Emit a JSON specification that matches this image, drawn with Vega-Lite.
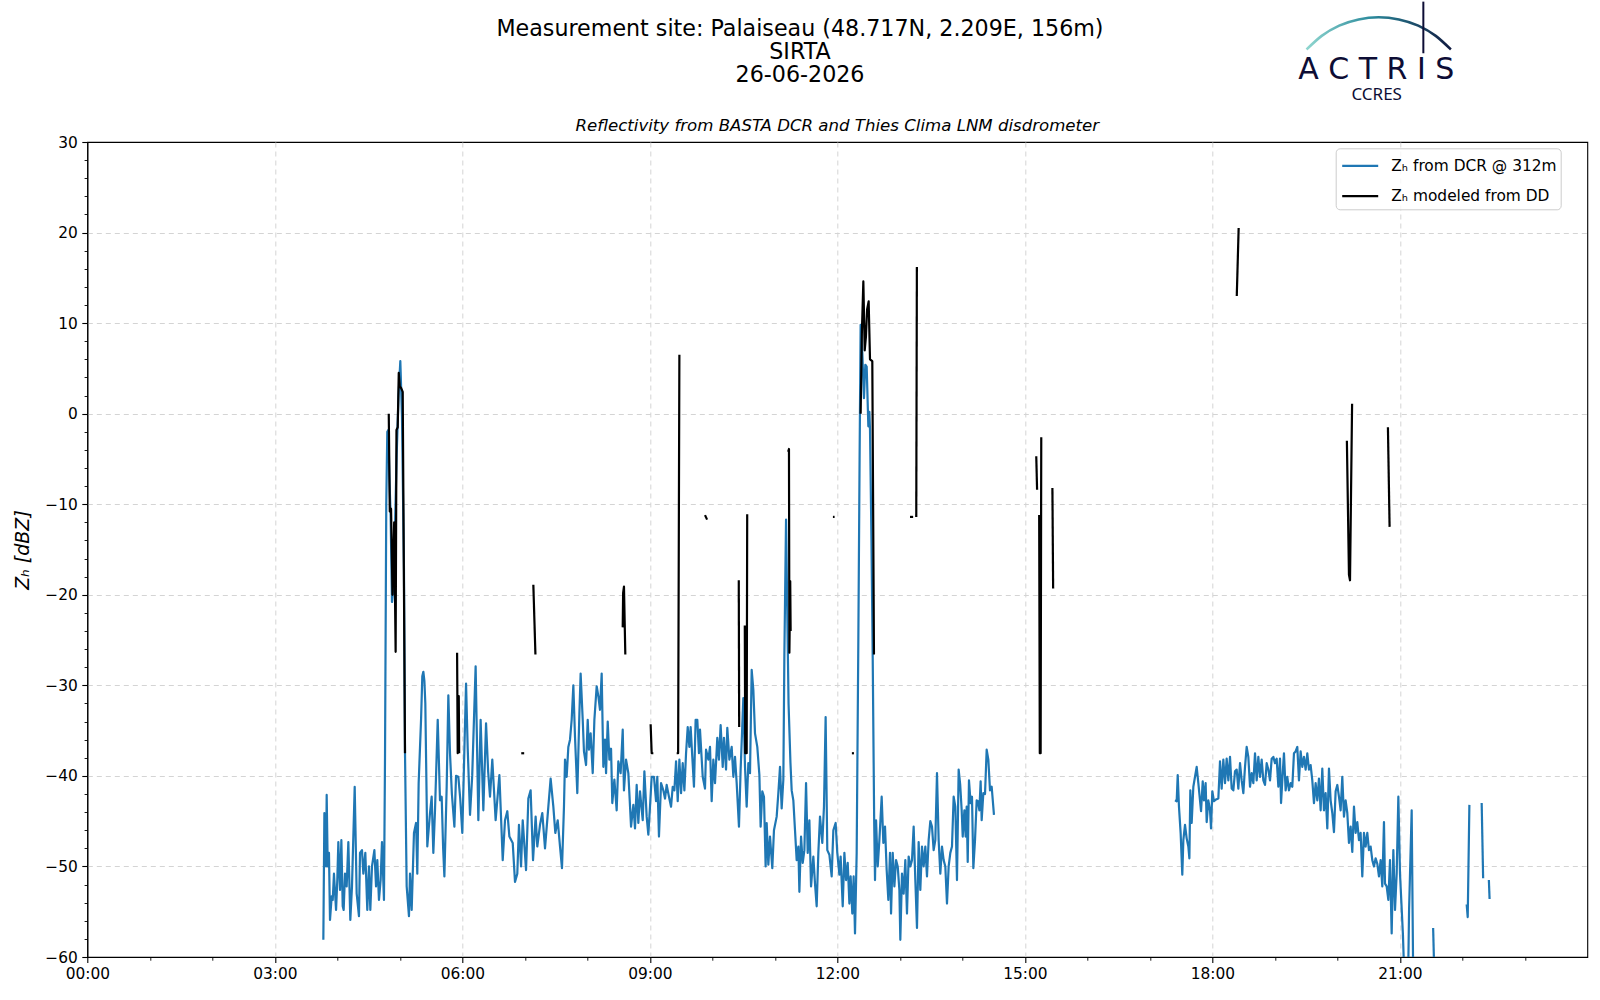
{
  "$schema": "https://vega.github.io/schema/vega-lite/v6.json",
  "autosize": {"type": "none"},
  "padding": {"left": 87.3, "top": 142, "right": 12.7, "bottom": 43},
  "width": 1500,
  "height": 815,
  "background": "white",
  "title": {
    "text": ["Measurement site: Palaiseau (48.717N, 2.209E, 156m)", "SIRTA", "26-06-2026"],
    "font": "DejaVu Sans",
    "fontSize": 22.2,
    "fontWeight": "normal",
    "color": "#000000",
    "lineHeight": 23,
    "anchor": "middle",
    "frame": "group",
    "dx": -37.3,
    "offset": -86
  },
  "datasets": {
    "dcr": [
      {"seg":1,"minute":226.6,"dbz":-58.1},{"seg":1,"minute":227.6,"dbz":-44.1},{"seg":1,"minute":229.2,"dbz":-50.0},{"seg":1,"minute":229.8,"dbz":-42.1},
      {"seg":1,"minute":230.8,"dbz":-50.0},{"seg":1,"minute":232.0,"dbz":-48.5},{"seg":1,"minute":233.0,"dbz":-55.9},{"seg":1,"minute":234.6,"dbz":-53.3},
      {"seg":1,"minute":235.6,"dbz":-53.7},{"seg":1,"minute":236.8,"dbz":-50.8},{"seg":1,"minute":238.8,"dbz":-54.8},{"seg":1,"minute":240.0,"dbz":-51.5},
      {"seg":1,"minute":241.0,"dbz":-47.3},{"seg":1,"minute":242.6,"dbz":-52.6},{"seg":1,"minute":243.9,"dbz":-47.1},{"seg":1,"minute":245.2,"dbz":-54.4},
      {"seg":1,"minute":246.1,"dbz":-54.8},{"seg":1,"minute":247.4,"dbz":-50.8},{"seg":1,"minute":249.0,"dbz":-52.2},{"seg":1,"minute":250.6,"dbz":-47.3},
      {"seg":1,"minute":252.5,"dbz":-55.9},{"seg":1,"minute":254.1,"dbz":-52.2},{"seg":1,"minute":256.7,"dbz":-41.2},{"seg":1,"minute":258.6,"dbz":-53.0},
      {"seg":1,"minute":260.8,"dbz":-55.5},{"seg":1,"minute":261.8,"dbz":-48.5},{"seg":1,"minute":263.7,"dbz":-48.2},{"seg":1,"minute":265.0,"dbz":-50.8},
      {"seg":1,"minute":266.9,"dbz":-48.5},{"seg":1,"minute":268.8,"dbz":-54.8},{"seg":1,"minute":270.4,"dbz":-50.0},{"seg":1,"minute":271.7,"dbz":-54.8},
      {"seg":1,"minute":273.3,"dbz":-50.0},{"seg":1,"minute":275.6,"dbz":-48.2},{"seg":1,"minute":277.2,"dbz":-52.2},{"seg":1,"minute":278.4,"dbz":-49.3},
      {"seg":1,"minute":280.0,"dbz":-53.7},{"seg":1,"minute":281.6,"dbz":-51.5},{"seg":1,"minute":282.9,"dbz":-47.3},{"seg":1,"minute":284.8,"dbz":-53.7},
      {"seg":1,"minute":285.8,"dbz":-38.0},{"seg":1,"minute":287.0,"dbz":-10.0},{"seg":1,"minute":288.0,"dbz":-2.0},{"seg":1,"minute":289.0,"dbz":-1.8},
      {"seg":1,"minute":290.0,"dbz":-7.0},{"seg":1,"minute":291.2,"dbz":-11.3},{"seg":1,"minute":292.5,"dbz":-20.8},{"seg":1,"minute":293.8,"dbz":-19.3},
      {"seg":1,"minute":295.5,"dbz":-12.0},{"seg":1,"minute":297.0,"dbz":-4.5},{"seg":1,"minute":298.8,"dbz":2.0},{"seg":1,"minute":300.5,"dbz":5.8},
      {"seg":1,"minute":302.1,"dbz":-0.3},{"seg":1,"minute":304.0,"dbz":-17.2},{"seg":1,"minute":305.0,"dbz":-37.5},{"seg":1,"minute":306.6,"dbz":-52.2},
      {"seg":1,"minute":308.8,"dbz":-55.5},{"seg":1,"minute":309.8,"dbz":-50.8},{"seg":1,"minute":311.4,"dbz":-54.8},{"seg":1,"minute":313.6,"dbz":-46.3},
      {"seg":1,"minute":315.6,"dbz":-45.2},{"seg":1,"minute":316.8,"dbz":-50.8},{"seg":1,"minute":318.1,"dbz":-40.8},{"seg":1,"minute":320.4,"dbz":-33.8},
      {"seg":1,"minute":321.6,"dbz":-29.0},{"seg":1,"minute":322.6,"dbz":-28.5},{"seg":1,"minute":323.6,"dbz":-29.5},{"seg":1,"minute":324.5,"dbz":-32.0},
      {"seg":1,"minute":326.4,"dbz":-47.8},{"seg":1,"minute":329.0,"dbz":-44.1},{"seg":1,"minute":330.6,"dbz":-42.3},{"seg":1,"minute":332.2,"dbz":-48.5},
      {"seg":1,"minute":333.8,"dbz":-43.8},{"seg":1,"minute":336.4,"dbz":-33.8},{"seg":1,"minute":338.6,"dbz":-42.7},{"seg":1,"minute":340.2,"dbz":-42.3},
      {"seg":1,"minute":341.6,"dbz":-48.0},{"seg":1,"minute":342.8,"dbz":-51.1},{"seg":1,"minute":345.0,"dbz":-41.2},{"seg":1,"minute":346.6,"dbz":-31.1},
      {"seg":1,"minute":348.2,"dbz":-37.5},{"seg":1,"minute":350.0,"dbz":-42.0},{"seg":1,"minute":352.4,"dbz":-45.6},{"seg":1,"minute":354.0,"dbz":-40.0},
      {"seg":1,"minute":356.2,"dbz":-40.1},{"seg":1,"minute":358.0,"dbz":-42.5},{"seg":1,"minute":360.0,"dbz":-46.3},{"seg":1,"minute":363.6,"dbz":-29.8},
      {"seg":1,"minute":365.2,"dbz":-37.0},{"seg":1,"minute":367.4,"dbz":-44.3},{"seg":1,"minute":369.5,"dbz":-40.0},{"seg":1,"minute":372.8,"dbz":-27.9},
      {"seg":1,"minute":375.4,"dbz":-44.9},{"seg":1,"minute":377.6,"dbz":-33.8},{"seg":1,"minute":380.2,"dbz":-43.8},{"seg":1,"minute":382.8,"dbz":-34.2},
      {"seg":1,"minute":384.8,"dbz":-39.5},{"seg":1,"minute":386.6,"dbz":-42.3},{"seg":1,"minute":388.8,"dbz":-38.2},{"seg":1,"minute":392.0,"dbz":-44.9},
      {"seg":1,"minute":395.6,"dbz":-39.9},{"seg":1,"minute":398.8,"dbz":-49.3},{"seg":1,"minute":401.0,"dbz":-44.9},{"seg":1,"minute":403.2,"dbz":-43.9},
      {"seg":1,"minute":405.2,"dbz":-46.7},{"seg":1,"minute":408.4,"dbz":-47.4},{"seg":1,"minute":410.6,"dbz":-51.7},{"seg":1,"minute":412.8,"dbz":-50.8},
      {"seg":1,"minute":414.4,"dbz":-45.4},{"seg":1,"minute":416.4,"dbz":-50.0},{"seg":1,"minute":418.0,"dbz":-44.9},{"seg":1,"minute":421.2,"dbz":-50.4},
      {"seg":1,"minute":423.4,"dbz":-42.5},{"seg":1,"minute":425.6,"dbz":-41.6},{"seg":1,"minute":427.9,"dbz":-49.3},{"seg":1,"minute":430.4,"dbz":-44.5},
      {"seg":1,"minute":432.0,"dbz":-47.8},{"seg":1,"minute":434.6,"dbz":-45.4},{"seg":1,"minute":436.8,"dbz":-44.1},{"seg":1,"minute":439.4,"dbz":-48.0},
      {"seg":1,"minute":442.6,"dbz":-43.4},{"seg":1,"minute":444.8,"dbz":-40.3},{"seg":1,"minute":447.4,"dbz":-43.4},{"seg":1,"minute":449.3,"dbz":-46.3},
      {"seg":1,"minute":451.6,"dbz":-44.9},{"seg":1,"minute":453.8,"dbz":-47.8},{"seg":1,"minute":455.7,"dbz":-50.2},{"seg":1,"minute":457.6,"dbz":-43.4},
      {"seg":1,"minute":458.6,"dbz":-38.2},{"seg":1,"minute":460.2,"dbz":-40.1},{"seg":1,"minute":461.8,"dbz":-36.8},{"seg":1,"minute":463.4,"dbz":-36.0},
      {"seg":1,"minute":465.0,"dbz":-33.8},{"seg":1,"minute":466.6,"dbz":-30.0},{"seg":1,"minute":468.2,"dbz":-35.7},{"seg":1,"minute":470.4,"dbz":-41.9},
      {"seg":1,"minute":472.4,"dbz":-33.1},{"seg":1,"minute":473.6,"dbz":-28.7},{"seg":1,"minute":475.6,"dbz":-33.8},{"seg":1,"minute":476.8,"dbz":-37.3},
      {"seg":1,"minute":478.8,"dbz":-38.8},{"seg":1,"minute":480.4,"dbz":-33.8},{"seg":1,"minute":481.6,"dbz":-37.1},{"seg":1,"minute":483.2,"dbz":-35.3},
      {"seg":1,"minute":485.2,"dbz":-39.7},{"seg":1,"minute":486.8,"dbz":-33.8},{"seg":1,"minute":489.0,"dbz":-30.1},{"seg":1,"minute":490.6,"dbz":-31.2},
      {"seg":1,"minute":492.2,"dbz":-32.7},{"seg":1,"minute":493.8,"dbz":-28.7},{"seg":1,"minute":495.4,"dbz":-39.0},{"seg":1,"minute":497.0,"dbz":-36.0},
      {"seg":1,"minute":498.0,"dbz":-39.7},{"seg":1,"minute":499.6,"dbz":-34.0},{"seg":1,"minute":501.2,"dbz":-38.2},{"seg":1,"minute":502.8,"dbz":-37.0},
      {"seg":1,"minute":504.0,"dbz":-43.0},{"seg":1,"minute":506.0,"dbz":-40.4},{"seg":1,"minute":508.2,"dbz":-43.8},{"seg":1,"minute":509.8,"dbz":-38.4},
      {"seg":1,"minute":512.0,"dbz":-39.7},{"seg":1,"minute":514.0,"dbz":-34.9},{"seg":1,"minute":515.2,"dbz":-41.6},{"seg":1,"minute":517.2,"dbz":-38.2},
      {"seg":1,"minute":519.4,"dbz":-39.7},{"seg":1,"minute":522.0,"dbz":-45.6},{"seg":1,"minute":524.2,"dbz":-43.2},{"seg":1,"minute":525.8,"dbz":-45.8},
      {"seg":1,"minute":527.4,"dbz":-41.0},{"seg":1,"minute":529.0,"dbz":-45.2},{"seg":1,"minute":530.6,"dbz":-41.7},{"seg":1,"minute":533.2,"dbz":-44.9},
      {"seg":1,"minute":534.8,"dbz":-39.5},{"seg":1,"minute":537.0,"dbz":-44.5},{"seg":1,"minute":538.6,"dbz":-46.5},{"seg":1,"minute":540.2,"dbz":-43.4},
      {"seg":1,"minute":541.8,"dbz":-40.1},{"seg":1,"minute":544.0,"dbz":-40.1},{"seg":1,"minute":546.0,"dbz":-42.8},{"seg":1,"minute":547.2,"dbz":-40.1},
      {"seg":1,"minute":548.8,"dbz":-46.7},{"seg":1,"minute":550.8,"dbz":-40.8},{"seg":1,"minute":553.0,"dbz":-41.6},{"seg":1,"minute":554.6,"dbz":-42.5},
      {"seg":1,"minute":556.2,"dbz":-41.0},{"seg":1,"minute":558.4,"dbz":-42.3},{"seg":1,"minute":560.4,"dbz":-43.4},{"seg":1,"minute":562.0,"dbz":-41.2},
      {"seg":1,"minute":563.6,"dbz":-41.6},{"seg":1,"minute":565.2,"dbz":-38.4},{"seg":1,"minute":566.8,"dbz":-42.8},{"seg":1,"minute":568.4,"dbz":-38.2},
      {"seg":1,"minute":570.0,"dbz":-41.9},{"seg":1,"minute":571.6,"dbz":-38.6},{"seg":1,"minute":573.2,"dbz":-41.6},{"seg":1,"minute":574.8,"dbz":-37.5},
      {"seg":1,"minute":576.4,"dbz":-34.6},{"seg":1,"minute":578.0,"dbz":-36.8},{"seg":1,"minute":579.2,"dbz":-34.6},{"seg":1,"minute":580.8,"dbz":-37.9},
      {"seg":1,"minute":582.4,"dbz":-41.2},{"seg":1,"minute":584.0,"dbz":-33.8},{"seg":1,"minute":585.6,"dbz":-33.8},{"seg":1,"minute":587.2,"dbz":-37.5},
      {"seg":1,"minute":588.2,"dbz":-34.9},{"seg":1,"minute":590.8,"dbz":-40.1},{"seg":1,"minute":593.0,"dbz":-41.4},{"seg":1,"minute":594.0,"dbz":-37.1},
      {"seg":1,"minute":596.2,"dbz":-38.2},{"seg":1,"minute":597.8,"dbz":-36.8},{"seg":1,"minute":599.4,"dbz":-42.8},{"seg":1,"minute":601.0,"dbz":-38.2},
      {"seg":1,"minute":602.6,"dbz":-40.8},{"seg":1,"minute":604.8,"dbz":-35.8},{"seg":1,"minute":606.4,"dbz":-38.2},{"seg":1,"minute":608.0,"dbz":-34.4},
      {"seg":1,"minute":610.0,"dbz":-39.0},{"seg":1,"minute":611.2,"dbz":-35.8},{"seg":1,"minute":613.2,"dbz":-39.3},{"seg":1,"minute":614.4,"dbz":-34.7},
      {"seg":1,"minute":616.4,"dbz":-38.2},{"seg":1,"minute":618.6,"dbz":-36.8},{"seg":1,"minute":620.2,"dbz":-40.1},{"seg":1,"minute":621.8,"dbz":-37.9},
      {"seg":1,"minute":623.4,"dbz":-40.8},{"seg":1,"minute":625.6,"dbz":-45.6},{"seg":1,"minute":627.2,"dbz":-39.3},{"seg":1,"minute":629.8,"dbz":-31.4},
      {"seg":1,"minute":631.4,"dbz":-39.0},{"seg":1,"minute":633.0,"dbz":-43.4},{"seg":1,"minute":634.6,"dbz":-38.6},{"seg":1,"minute":636.2,"dbz":-39.7},
      {"seg":1,"minute":637.8,"dbz":-28.3},{"seg":1,"minute":639.4,"dbz":-30.5},{"seg":1,"minute":641.0,"dbz":-35.3},{"seg":1,"minute":643.2,"dbz":-36.8},
      {"seg":1,"minute":645.2,"dbz":-39.9},{"seg":1,"minute":646.4,"dbz":-45.6},{"seg":1,"minute":648.0,"dbz":-41.7},{"seg":1,"minute":649.6,"dbz":-42.3},
      {"seg":1,"minute":651.2,"dbz":-50.0},{"seg":1,"minute":652.2,"dbz":-45.2},{"seg":1,"minute":653.8,"dbz":-49.8},{"seg":1,"minute":655.4,"dbz":-46.7},
      {"seg":1,"minute":657.6,"dbz":-50.2},{"seg":1,"minute":659.2,"dbz":-46.0},{"seg":1,"minute":661.8,"dbz":-44.5},{"seg":1,"minute":663.4,"dbz":-41.9},
      {"seg":1,"minute":665.0,"dbz":-39.0},{"seg":1,"minute":666.6,"dbz":-43.6},{"seg":1,"minute":668.2,"dbz":-40.4},{"seg":1,"minute":669.2,"dbz":-26.5},
      {"seg":1,"minute":670.8,"dbz":-11.7},{"seg":1,"minute":672.0,"dbz":-22.0},{"seg":1,"minute":673.2,"dbz":-32.0},{"seg":1,"minute":675.0,"dbz":-38.5},
      {"seg":1,"minute":676.2,"dbz":-41.6},{"seg":1,"minute":677.8,"dbz":-42.7},{"seg":1,"minute":679.4,"dbz":-46.0},{"seg":1,"minute":681.0,"dbz":-49.3},
      {"seg":1,"minute":682.6,"dbz":-47.8},{"seg":1,"minute":683.6,"dbz":-52.8},{"seg":1,"minute":685.2,"dbz":-46.7},{"seg":1,"minute":686.8,"dbz":-49.6},
      {"seg":1,"minute":688.4,"dbz":-48.2},{"seg":1,"minute":690.0,"dbz":-40.8},{"seg":1,"minute":691.6,"dbz":-48.5},{"seg":1,"minute":693.2,"dbz":-44.9},
      {"seg":1,"minute":694.8,"dbz":-52.2},{"seg":1,"minute":697.0,"dbz":-48.9},{"seg":1,"minute":698.6,"dbz":-51.9},{"seg":1,"minute":700.2,"dbz":-54.4},
      {"seg":1,"minute":701.8,"dbz":-48.5},{"seg":1,"minute":703.4,"dbz":-44.5},{"seg":1,"minute":705.6,"dbz":-47.4},{"seg":1,"minute":707.2,"dbz":-43.4},
      {"seg":1,"minute":708.8,"dbz":-33.5},{"seg":1,"minute":710.4,"dbz":-48.2},{"seg":1,"minute":712.4,"dbz":-48.7},{"seg":1,"minute":714.6,"dbz":-51.1},
      {"seg":1,"minute":716.2,"dbz":-46.0},{"seg":1,"minute":718.4,"dbz":-45.2},{"seg":1,"minute":720.0,"dbz":-48.5},{"seg":1,"minute":722.0,"dbz":-50.9},
      {"seg":1,"minute":723.2,"dbz":-48.9},{"seg":1,"minute":725.2,"dbz":-54.4},{"seg":1,"minute":726.8,"dbz":-48.5},{"seg":1,"minute":728.4,"dbz":-51.5},
      {"seg":1,"minute":730.0,"dbz":-49.6},{"seg":1,"minute":731.6,"dbz":-54.1},{"seg":1,"minute":732.8,"dbz":-51.1},{"seg":1,"minute":734.4,"dbz":-55.2},
      {"seg":1,"minute":735.7,"dbz":-51.1},{"seg":1,"minute":737.0,"dbz":-57.4},{"seg":1,"minute":738.6,"dbz":-48.5},{"seg":1,"minute":740.2,"dbz":-25.0},
      {"seg":1,"minute":741.4,"dbz":-5.0},{"seg":1,"minute":742.4,"dbz":9.8},{"seg":1,"minute":744.0,"dbz":6.7},{"seg":1,"minute":745.6,"dbz":1.7},
      {"seg":1,"minute":746.9,"dbz":5.4},{"seg":1,"minute":748.2,"dbz":5.2},{"seg":1,"minute":749.8,"dbz":-1.4},{"seg":1,"minute":750.8,"dbz":0.2},
      {"seg":1,"minute":751.4,"dbz":-1.8},{"seg":1,"minute":752.8,"dbz":-14.0},{"seg":1,"minute":754.0,"dbz":-27.0},{"seg":1,"minute":755.4,"dbz":-45.0},
      {"seg":1,"minute":756.2,"dbz":-51.5},{"seg":1,"minute":757.2,"dbz":-44.9},{"seg":1,"minute":758.8,"dbz":-50.0},{"seg":1,"minute":760.4,"dbz":-47.1},
      {"seg":1,"minute":762.6,"dbz":-42.3},{"seg":1,"minute":764.2,"dbz":-47.4},{"seg":1,"minute":765.8,"dbz":-45.6},{"seg":1,"minute":767.4,"dbz":-50.4},
      {"seg":1,"minute":769.0,"dbz":-53.7},{"seg":1,"minute":770.6,"dbz":-48.5},{"seg":1,"minute":771.6,"dbz":-55.2},{"seg":1,"minute":773.2,"dbz":-48.5},
      {"seg":1,"minute":774.8,"dbz":-52.2},{"seg":1,"minute":776.4,"dbz":-49.3},{"seg":1,"minute":778.0,"dbz":-50.0},{"seg":1,"minute":779.6,"dbz":-52.6},
      {"seg":1,"minute":780.5,"dbz":-58.1},{"seg":1,"minute":782.1,"dbz":-50.8},{"seg":1,"minute":783.7,"dbz":-53.0},{"seg":1,"minute":785.3,"dbz":-49.3},
      {"seg":1,"minute":786.9,"dbz":-55.2},{"seg":1,"minute":788.5,"dbz":-48.9},{"seg":1,"minute":790.1,"dbz":-50.0},{"seg":1,"minute":791.7,"dbz":-49.3},
      {"seg":1,"minute":793.3,"dbz":-45.6},{"seg":1,"minute":794.9,"dbz":-51.5},{"seg":1,"minute":796.5,"dbz":-56.8},{"seg":1,"minute":798.1,"dbz":-47.3},
      {"seg":1,"minute":799.7,"dbz":-52.6},{"seg":1,"minute":801.3,"dbz":-47.8},{"seg":1,"minute":802.9,"dbz":-50.0},{"seg":1,"minute":804.5,"dbz":-47.8},
      {"seg":1,"minute":806.1,"dbz":-51.1},{"seg":1,"minute":807.7,"dbz":-47.1},{"seg":1,"minute":809.3,"dbz":-45.0},{"seg":1,"minute":810.9,"dbz":-45.6},
      {"seg":1,"minute":812.5,"dbz":-48.2},{"seg":1,"minute":814.1,"dbz":-47.1},{"seg":1,"minute":815.7,"dbz":-39.7},{"seg":1,"minute":817.3,"dbz":-47.1},
      {"seg":1,"minute":818.9,"dbz":-50.8},{"seg":1,"minute":820.5,"dbz":-47.8},{"seg":1,"minute":822.1,"dbz":-49.3},{"seg":1,"minute":823.7,"dbz":-50.0},
      {"seg":1,"minute":825.3,"dbz":-54.1},{"seg":1,"minute":826.9,"dbz":-50.0},{"seg":1,"minute":828.5,"dbz":-48.5},{"seg":1,"minute":830.1,"dbz":-47.8},
      {"seg":1,"minute":831.7,"dbz":-42.3},{"seg":1,"minute":833.3,"dbz":-43.4},{"seg":1,"minute":834.9,"dbz":-51.5},{"seg":1,"minute":836.5,"dbz":-39.3},
      {"seg":1,"minute":838.0,"dbz":-41.0},{"seg":1,"minute":839.4,"dbz":-43.8},{"seg":1,"minute":840.4,"dbz":-46.7},{"seg":1,"minute":842.0,"dbz":-43.8},
      {"seg":1,"minute":843.2,"dbz":-46.7},{"seg":1,"minute":844.2,"dbz":-43.4},{"seg":1,"minute":845.2,"dbz":-49.5},{"seg":1,"minute":846.4,"dbz":-40.5},
      {"seg":1,"minute":848.0,"dbz":-43.0},{"seg":1,"minute":849.3,"dbz":-42.3},{"seg":1,"minute":850.6,"dbz":-50.2},{"seg":1,"minute":852.2,"dbz":-47.1},
      {"seg":1,"minute":853.8,"dbz":-42.7},{"seg":1,"minute":855.0,"dbz":-42.8},{"seg":1,"minute":856.4,"dbz":-43.8},{"seg":1,"minute":857.6,"dbz":-40.6},
      {"seg":1,"minute":858.6,"dbz":-44.9},{"seg":1,"minute":860.2,"dbz":-41.9},{"seg":1,"minute":861.8,"dbz":-42.0},{"seg":1,"minute":863.4,"dbz":-37.1},
      {"seg":1,"minute":865.0,"dbz":-38.2},{"seg":1,"minute":866.6,"dbz":-41.6},{"seg":1,"minute":868.2,"dbz":-41.2},{"seg":1,"minute":870.4,"dbz":-44.3},
      {"seg":2,"minute":1044.2,"dbz":-42.7},{"seg":2,"minute":1045.8,"dbz":-42.8},{"seg":2,"minute":1046.8,"dbz":-39.9},{"seg":2,"minute":1048.0,"dbz":-43.4},
      {"seg":2,"minute":1049.6,"dbz":-46.3},{"seg":2,"minute":1051.2,"dbz":-50.9},{"seg":2,"minute":1052.2,"dbz":-47.1},{"seg":2,"minute":1053.8,"dbz":-45.4},
      {"seg":2,"minute":1055.4,"dbz":-46.9},{"seg":2,"minute":1057.0,"dbz":-47.8},{"seg":2,"minute":1058.0,"dbz":-49.1},{"seg":2,"minute":1058.9,"dbz":-41.6},
      {"seg":2,"minute":1060.2,"dbz":-45.2},{"seg":2,"minute":1061.8,"dbz":-41.2},{"seg":2,"minute":1063.4,"dbz":-40.1},{"seg":2,"minute":1065.0,"dbz":-39.0},
      {"seg":2,"minute":1066.6,"dbz":-40.8},{"seg":2,"minute":1068.2,"dbz":-42.7},{"seg":2,"minute":1069.2,"dbz":-43.9},{"seg":2,"minute":1070.8,"dbz":-40.6},
      {"seg":2,"minute":1072.0,"dbz":-42.7},{"seg":2,"minute":1073.6,"dbz":-40.8},{"seg":2,"minute":1074.6,"dbz":-45.1},{"seg":2,"minute":1076.2,"dbz":-42.7},
      {"seg":2,"minute":1077.8,"dbz":-43.8},{"seg":2,"minute":1078.8,"dbz":-45.8},{"seg":2,"minute":1080.0,"dbz":-41.7},{"seg":2,"minute":1081.6,"dbz":-42.8},
      {"seg":2,"minute":1083.6,"dbz":-42.6},{"seg":2,"minute":1085.8,"dbz":-42.5},{"seg":2,"minute":1087.4,"dbz":-38.4},{"seg":2,"minute":1089.0,"dbz":-41.4},
      {"seg":2,"minute":1090.6,"dbz":-38.2},{"seg":2,"minute":1092.2,"dbz":-40.8},{"seg":2,"minute":1093.8,"dbz":-38.1},{"seg":2,"minute":1095.4,"dbz":-40.5},
      {"seg":2,"minute":1097.0,"dbz":-37.9},{"seg":2,"minute":1098.6,"dbz":-41.4},{"seg":2,"minute":1100.2,"dbz":-41.6},{"seg":2,"minute":1101.8,"dbz":-39.5},
      {"seg":2,"minute":1103.4,"dbz":-39.3},{"seg":2,"minute":1105.0,"dbz":-41.4},{"seg":2,"minute":1106.6,"dbz":-38.6},{"seg":2,"minute":1108.2,"dbz":-40.5},
      {"seg":2,"minute":1109.8,"dbz":-41.9},{"seg":2,"minute":1111.4,"dbz":-39.0},{"seg":2,"minute":1113.0,"dbz":-36.8},{"seg":2,"minute":1114.6,"dbz":-37.9},
      {"seg":2,"minute":1116.2,"dbz":-41.2},{"seg":2,"minute":1117.8,"dbz":-39.7},{"seg":2,"minute":1119.4,"dbz":-40.8},{"seg":2,"minute":1121.0,"dbz":-37.5},
      {"seg":2,"minute":1122.6,"dbz":-40.5},{"seg":2,"minute":1124.2,"dbz":-37.9},{"seg":2,"minute":1125.8,"dbz":-40.1},{"seg":2,"minute":1127.4,"dbz":-38.2},
      {"seg":2,"minute":1129.0,"dbz":-40.5},{"seg":2,"minute":1130.6,"dbz":-41.0},{"seg":2,"minute":1132.2,"dbz":-38.6},{"seg":2,"minute":1133.8,"dbz":-39.3},
      {"seg":2,"minute":1135.4,"dbz":-40.5},{"seg":2,"minute":1137.0,"dbz":-38.1},{"seg":2,"minute":1138.6,"dbz":-37.9},{"seg":2,"minute":1140.2,"dbz":-38.6},
      {"seg":2,"minute":1141.8,"dbz":-38.1},{"seg":2,"minute":1143.4,"dbz":-41.2},{"seg":2,"minute":1145.0,"dbz":-38.1},{"seg":2,"minute":1146.0,"dbz":-43.0},
      {"seg":2,"minute":1147.6,"dbz":-39.7},{"seg":2,"minute":1148.8,"dbz":-37.5},{"seg":2,"minute":1150.4,"dbz":-41.6},{"seg":2,"minute":1152.0,"dbz":-40.1},
      {"seg":2,"minute":1153.6,"dbz":-41.6},{"seg":2,"minute":1155.2,"dbz":-40.8},{"seg":2,"minute":1156.8,"dbz":-41.2},{"seg":2,"minute":1158.4,"dbz":-37.5},
      {"seg":2,"minute":1160.0,"dbz":-37.3},{"seg":2,"minute":1161.6,"dbz":-36.8},{"seg":2,"minute":1163.2,"dbz":-40.5},{"seg":2,"minute":1164.8,"dbz":-37.3},
      {"seg":2,"minute":1166.4,"dbz":-39.0},{"seg":2,"minute":1168.0,"dbz":-37.9},{"seg":2,"minute":1169.6,"dbz":-39.3},{"seg":2,"minute":1171.2,"dbz":-37.5},
      {"seg":2,"minute":1172.8,"dbz":-39.3},{"seg":2,"minute":1174.4,"dbz":-38.8},{"seg":2,"minute":1176.0,"dbz":-40.5},{"seg":2,"minute":1177.6,"dbz":-43.0},
      {"seg":2,"minute":1179.2,"dbz":-40.8},{"seg":2,"minute":1180.8,"dbz":-42.7},{"seg":2,"minute":1182.4,"dbz":-40.3},{"seg":2,"minute":1184.0,"dbz":-43.8},
      {"seg":2,"minute":1185.6,"dbz":-39.2},{"seg":2,"minute":1187.2,"dbz":-43.8},{"seg":2,"minute":1188.8,"dbz":-41.9},{"seg":2,"minute":1190.4,"dbz":-45.8},
      {"seg":2,"minute":1192.0,"dbz":-39.2},{"seg":2,"minute":1193.6,"dbz":-42.7},{"seg":2,"minute":1195.2,"dbz":-44.1},{"seg":2,"minute":1196.8,"dbz":-46.2},
      {"seg":2,"minute":1198.4,"dbz":-41.7},{"seg":2,"minute":1200.0,"dbz":-41.0},{"seg":2,"minute":1201.6,"dbz":-42.3},{"seg":2,"minute":1203.2,"dbz":-43.8},
      {"seg":2,"minute":1204.8,"dbz":-40.1},{"seg":2,"minute":1206.4,"dbz":-44.5},{"seg":2,"minute":1208.0,"dbz":-42.7},{"seg":2,"minute":1209.6,"dbz":-44.1},
      {"seg":2,"minute":1211.2,"dbz":-47.4},{"seg":2,"minute":1212.8,"dbz":-45.6},{"seg":2,"minute":1214.4,"dbz":-48.4},{"seg":2,"minute":1216.0,"dbz":-43.4},
      {"seg":2,"minute":1217.6,"dbz":-46.3},{"seg":2,"minute":1219.2,"dbz":-45.1},{"seg":2,"minute":1220.8,"dbz":-47.1},{"seg":2,"minute":1222.4,"dbz":-46.3},
      {"seg":2,"minute":1224.0,"dbz":-51.1},{"seg":2,"minute":1225.6,"dbz":-46.3},{"seg":2,"minute":1227.2,"dbz":-47.8},{"seg":2,"minute":1228.8,"dbz":-46.3},
      {"seg":2,"minute":1230.4,"dbz":-48.2},{"seg":2,"minute":1232.0,"dbz":-47.8},{"seg":2,"minute":1233.6,"dbz":-49.3},{"seg":2,"minute":1235.2,"dbz":-50.0},
      {"seg":2,"minute":1236.8,"dbz":-49.1},{"seg":2,"minute":1238.4,"dbz":-49.7},{"seg":2,"minute":1240.0,"dbz":-51.1},{"seg":2,"minute":1241.6,"dbz":-49.3},
      {"seg":2,"minute":1243.2,"dbz":-52.2},{"seg":2,"minute":1244.8,"dbz":-45.1},{"seg":2,"minute":1245.8,"dbz":-51.9},{"seg":2,"minute":1247.4,"dbz":-52.2},
      {"seg":2,"minute":1249.0,"dbz":-53.7},{"seg":2,"minute":1250.6,"dbz":-49.3},{"seg":2,"minute":1252.2,"dbz":-57.4},{"seg":2,"minute":1253.8,"dbz":-48.2},
      {"seg":2,"minute":1255.4,"dbz":-54.8},{"seg":2,"minute":1257.0,"dbz":-50.8},{"seg":2,"minute":1258.6,"dbz":-42.3},{"seg":2,"minute":1260.2,"dbz":-50.8},
      {"seg":2,"minute":1261.4,"dbz":-53.7},{"seg":2,"minute":1263.0,"dbz":-57.5},{"seg":2,"minute":1264.8,"dbz":-64.0},{"seg":2,"minute":1267.8,"dbz":-64.0},
      {"seg":2,"minute":1268.9,"dbz":-54.8},{"seg":2,"minute":1271.4,"dbz":-43.8},{"seg":2,"minute":1273.0,"dbz":-64.0},
      {"seg":3,"minute":1292.0,"dbz":-56.8},{"seg":3,"minute":1293.6,"dbz":-64.0},
      {"seg":4,"minute":1324.2,"dbz":-54.2},{"seg":4,"minute":1325.2,"dbz":-55.6},{"seg":4,"minute":1326.8,"dbz":-43.2},
      {"seg":5,"minute":1338.6,"dbz":-43.0},{"seg":5,"minute":1340.0,"dbz":-51.3},
      {"seg":6,"minute":1345.5,"dbz":-51.5},{"seg":6,"minute":1346.2,"dbz":-53.6}
    ],
    "dd": [
      {"seg":1,"minute":289.4,"dbz":0.0},{"seg":1,"minute":290.4,"dbz":-10.8},{"seg":1,"minute":291.6,"dbz":-10.5},{"seg":1,"minute":293.0,"dbz":-20.0},
      {"seg":1,"minute":294.6,"dbz":-12.0},{"seg":1,"minute":296.0,"dbz":-26.3},{"seg":1,"minute":296.8,"dbz":-1.8},{"seg":1,"minute":298.0,"dbz":-1.5},
      {"seg":1,"minute":299.0,"dbz":4.5},{"seg":1,"minute":300.0,"dbz":3.0},{"seg":1,"minute":301.4,"dbz":2.8},{"seg":1,"minute":302.8,"dbz":2.4},
      {"seg":1,"minute":305.0,"dbz":-37.5},
      {"seg":2,"minute":355.0,"dbz":-26.4},{"seg":2,"minute":355.6,"dbz":-37.5},{"seg":2,"minute":356.6,"dbz":-31.2},{"seg":2,"minute":357.0,"dbz":-37.5},
      {"seg":3,"minute":416.6,"dbz":-37.5},{"seg":3,"minute":419.4,"dbz":-37.5},
      {"seg":4,"minute":428.2,"dbz":-18.9},{"seg":4,"minute":430.2,"dbz":-26.6},
      {"seg":5,"minute":514.0,"dbz":-23.6},{"seg":5,"minute":514.4,"dbz":-19.8},{"seg":5,"minute":515.2,"dbz":-19.1},{"seg":5,"minute":516.5,"dbz":-26.6},
      {"seg":6,"minute":540.8,"dbz":-34.3},{"seg":6,"minute":541.8,"dbz":-37.5},{"seg":6,"minute":543.4,"dbz":-37.5},
      {"seg":7,"minute":565.8,"dbz":-37.5},{"seg":7,"minute":567.2,"dbz":-37.5},{"seg":7,"minute":568.4,"dbz":6.5},
      {"seg":8,"minute":593.0,"dbz":-11.2},{"seg":8,"minute":595.0,"dbz":-11.7},
      {"seg":9,"minute":625.4,"dbz":-18.4},{"seg":9,"minute":625.8,"dbz":-34.6},
      {"seg":10,"minute":631.2,"dbz":-23.4},{"seg":10,"minute":631.6,"dbz":-37.5},{"seg":10,"minute":633.0,"dbz":-37.5},{"seg":10,"minute":633.5,"dbz":-11.1},
      {"seg":11,"minute":672.8,"dbz":-4.2},{"seg":11,"minute":673.6,"dbz":-3.9},{"seg":11,"minute":674.0,"dbz":-26.4},{"seg":11,"minute":674.8,"dbz":-18.5},
      {"seg":11,"minute":675.2,"dbz":-24.0},
      {"seg":12,"minute":715.8,"dbz":-11.4},{"seg":12,"minute":717.4,"dbz":-11.4},
      {"seg":13,"minute":734.0,"dbz":-37.5},{"seg":13,"minute":736.0,"dbz":-37.5},
      {"seg":14,"minute":742.4,"dbz":0.0},{"seg":14,"minute":743.6,"dbz":9.0},{"seg":14,"minute":745.0,"dbz":14.6},{"seg":14,"minute":746.3,"dbz":7.0},
      {"seg":14,"minute":747.5,"dbz":8.5},{"seg":14,"minute":748.6,"dbz":11.5},{"seg":14,"minute":750.1,"dbz":12.4},{"seg":14,"minute":751.4,"dbz":6.0},
      {"seg":14,"minute":753.6,"dbz":5.8},{"seg":14,"minute":755.2,"dbz":-26.6},
      {"seg":15,"minute":789.8,"dbz":-11.4},{"seg":15,"minute":792.8,"dbz":-11.4},
      {"seg":16,"minute":795.8,"dbz":-11.4},{"seg":16,"minute":796.4,"dbz":16.2},
      {"seg":17,"minute":911.0,"dbz":-4.7},{"seg":17,"minute":911.8,"dbz":-8.4},
      {"seg":18,"minute":913.8,"dbz":-11.2},{"seg":18,"minute":914.4,"dbz":-37.5},{"seg":18,"minute":915.2,"dbz":-37.5},{"seg":18,"minute":915.8,"dbz":-2.6},
      {"seg":19,"minute":926.5,"dbz":-8.2},{"seg":19,"minute":927.2,"dbz":-19.3},
      {"seg":20,"minute":1103.5,"dbz":13.0},{"seg":20,"minute":1105.3,"dbz":20.5},
      {"seg":21,"minute":1209.2,"dbz":-3.0},{"seg":21,"minute":1211.2,"dbz":-17.8},{"seg":21,"minute":1212.2,"dbz":-18.4},{"seg":21,"minute":1214.2,"dbz":1.1},
      {"seg":22,"minute":1248.6,"dbz":-1.5},{"seg":22,"minute":1250.2,"dbz":-12.5}
    ],
    "logo_arc": [
      {"minute":1170.5,"dbz":40.22},{"minute":1185.0,"dbz":41.72},{"minute":1201.8,"dbz":42.85},
      {"minute":1220.4,"dbz":43.53},{"minute":1239.7,"dbz":43.77},{"minute":1259.1,"dbz":43.53},
      {"minute":1277.7,"dbz":42.85},{"minute":1294.5,"dbz":41.72},{"minute":1309.0,"dbz":40.22}
    ]
  },
  "layer": [
    {
      "data": {"name": "dcr"},
      "mark": {"type": "line", "strokeWidth": 2.2, "strokeJoin": "round", "clip": true},
      "encoding": {
        "x": {
          "field": "minute", "type": "quantitative",
          "scale": {"domain": [0, 1440], "nice": false, "zero": false},
          "axis": {
            "orient": "bottom", "title": null,
            "values": [0, 180, 360, 540, 720, 900, 1080, 1260],
            "labelExpr": "(datum.value < 600 ? '0' : '') + floor(datum.value / 60) + ':00'",
            "grid": false, "tickSize": 5.5, "labelFlush": false, "labelOverlap": false, "labelPadding": 4
          }
        },
        "y": {
          "field": "dbz", "type": "quantitative",
          "scale": {"domain": [-60, 30], "nice": false, "zero": false},
          "axis": {
            "orient": "left",
            "values": [-60, -50, -40, -30, -20, -10, 0, 10, 20, 30],
            "labelExpr": "replace(datum.label, '-', '\u2212')",
            "grid": false, "tickSize": 5.5, "labelFlush": false, "labelOverlap": false, "labelPadding": 4.5,
            "title": "Z\u2095 [dBZ]", "titleFontSize": 19, "titleFontStyle": "italic", "titleFontWeight": "normal",
            "titleColor": "#000000", "titleX": -64.8, "titleY": 407.5, "titleAngle": -90,
            "titleAlign": "center", "titleBaseline": "middle"
          }
        },
        "color": {
          "datum": "DCR", "type": "nominal",
          "scale": {"domain": ["DCR", "DD"], "range": ["#1f77b4", "#000000"]},
          "legend": {
            "orient": "none", "legendX": 1248.4, "legendY": 6.3, "title": null,
            "symbolType": "M-1.5,0H1.5", "symbolStrokeWidth": 2.2, "symbolSize": 576,
            "symbolOffset": 7,
            "labelFontSize": 15.4, "labelFont": "DejaVu Sans", "labelColor": "#000000",
            "labelOffset": 17.6, "labelLimit": 400, "padding": 4, "rowPadding": 8.4,
            "fillColor": "rgba(255,255,255,0.8)", "strokeColor": "#cccccc", "cornerRadius": 4,
            "labelExpr": "datum.label == 'DCR' ? 'Z\u2095 from DCR @ 312m' : 'Z\u2095 modeled from DD'"
          }
        },
        "detail": {"field": "seg", "type": "nominal"}
      }
    },
    {
      "data": {"name": "dd"},
      "mark": {"type": "line", "strokeWidth": 2.2, "strokeJoin": "round", "clip": true},
      "encoding": {
        "x": {
          "field": "minute", "type": "quantitative",
          "scale": {"domain": [0, 1440], "nice": false, "zero": false},
          "axis": {
            "orient": "bottom", "title": null, "labels": false, "grid": false, "domain": false,
            "tickSize": 3.2, "tickWidth": 0.9,
            "values": [60, 120, 240, 300, 420, 480, 600, 660, 780, 840, 960, 1020, 1140, 1200, 1320, 1380]
          }
        },
        "y": {
          "field": "dbz", "type": "quantitative",
          "scale": {"domain": [-60, 30], "nice": false, "zero": false},
          "axis": {
            "orient": "left", "title": null, "labels": false, "grid": false, "domain": false,
            "tickSize": 3.2, "tickWidth": 0.9,
            "values": [-58, -56, -54, -52, -48, -46, -44, -42, -38, -36, -34, -32, -28, -26, -24, -22, -18, -16, -14, -12, -8, -6, -4, -2, 2, 4, 6, 8, 12, 14, 16, 18, 22, 24, 26, 28]
          }
        },
        "color": {
          "datum": "DD", "type": "nominal",
          "scale": {"domain": ["DCR", "DD"], "range": ["#1f77b4", "#000000"]}
        },
        "detail": {"field": "seg", "type": "nominal"}
      }
    },
    {
      "data": {"values": [{}]},
      "mark": {
        "type": "text", "text": "Reflectivity from BASTA DCR and Thies Clima LNM disdrometer",
        "font": "DejaVu Sans", "fontStyle": "italic", "fontSize": 16.6, "align": "center",
        "baseline": "alphabetic", "color": "#000000"
      },
      "encoding": {
        "x": {
          "datum": 720, "type": "quantitative", "scale": {"domain": [0, 1440], "nice": false, "zero": false},
          "axis": {
            "orient": "bottom", "title": null, "labels": false, "ticks": false, "domain": false,
            "grid": true, "values": [180, 360, 540, 720, 900, 1080, 1260]
          }
        },
        "y": {
          "datum": 31.21, "type": "quantitative", "scale": {"domain": [-60, 30], "nice": false, "zero": false},
          "axis": {
            "orient": "left", "title": null, "labels": false, "ticks": false, "domain": false,
            "grid": true, "values": [-50, -40, -30, -20, -10, 0, 10, 20]
          }
        }
      }
    },
    {
      "data": {"name": "logo_arc"},
      "mark": {
        "type": "line", "interpolate": "monotone", "strokeWidth": 2.6, "clip": false,
        "stroke": {
          "gradient": "linear", "x1": 0, "y1": 0, "x2": 1, "y2": 0,
          "stops": [
            {"offset": 0, "color": "#8fd6cf"},
            {"offset": 0.45, "color": "#2b8a9c"},
            {"offset": 1, "color": "#101a40"}
          ]
        }
      },
      "encoding": {
        "x": {"field": "minute", "type": "quantitative", "scale": {"domain": [0, 1440], "nice": false, "zero": false}, "axis": null},
        "y": {"field": "dbz", "type": "quantitative", "scale": {"domain": [-60, 30], "nice": false, "zero": false}, "axis": null}
      }
    },
    {
      "data": {"values": [{}]},
      "mark": {"type": "rule", "color": "#0d0d35", "strokeWidth": 2, "clip": false},
      "encoding": {
        "x": {"datum": 1282.6, "type": "quantitative", "scale": {"domain": [0, 1440], "nice": false, "zero": false}, "axis": null},
        "y": {"datum": 45.5, "type": "quantitative", "scale": {"domain": [-60, 30], "nice": false, "zero": false}, "axis": null},
        "y2": {"datum": 39.8}
      }
    },
    {
      "data": {"values": [{}]},
      "mark": {
        "type": "text", "text": "A C T R I S", "font": "DejaVu Sans", "fontSize": 30,
        "align": "center", "baseline": "alphabetic", "color": "#0d0d35"
      },
      "encoding": {
        "x": {"datum": 1237.4, "type": "quantitative", "scale": {"domain": [0, 1440], "nice": false, "zero": false}, "axis": null},
        "y": {"datum": 36.99, "type": "quantitative", "scale": {"domain": [-60, 30], "nice": false, "zero": false}, "axis": null}
      }
    },
    {
      "data": {"values": [{}]},
      "mark": {
        "type": "text", "text": "CCRES", "font": "Noto Sans", "fontSize": 17,
        "align": "center", "baseline": "alphabetic", "color": "#0d0d35"
      },
      "encoding": {
        "x": {"datum": 1237.8, "type": "quantitative", "scale": {"domain": [0, 1440], "nice": false, "zero": false}, "axis": null},
        "y": {"datum": 34.62, "type": "quantitative", "scale": {"domain": [-60, 30], "nice": false, "zero": false}, "axis": null}
      }
    }
  ],
  "resolve": {"axis": {"x": "independent", "y": "independent"}},
  "config": {
    "font": "DejaVu Sans",
    "view": {"stroke": "#000000", "strokeWidth": 1.1},
    "axis": {
      "labelFont": "DejaVu Sans", "labelFontSize": 15.4, "labelColor": "#000000",
      "domainColor": "#000000", "domainWidth": 1.1,
      "tickColor": "#000000", "tickWidth": 1.1,
      "gridColor": "#d4d4d4", "gridDash": [5, 4], "gridWidth": 1
    }
  }
}
